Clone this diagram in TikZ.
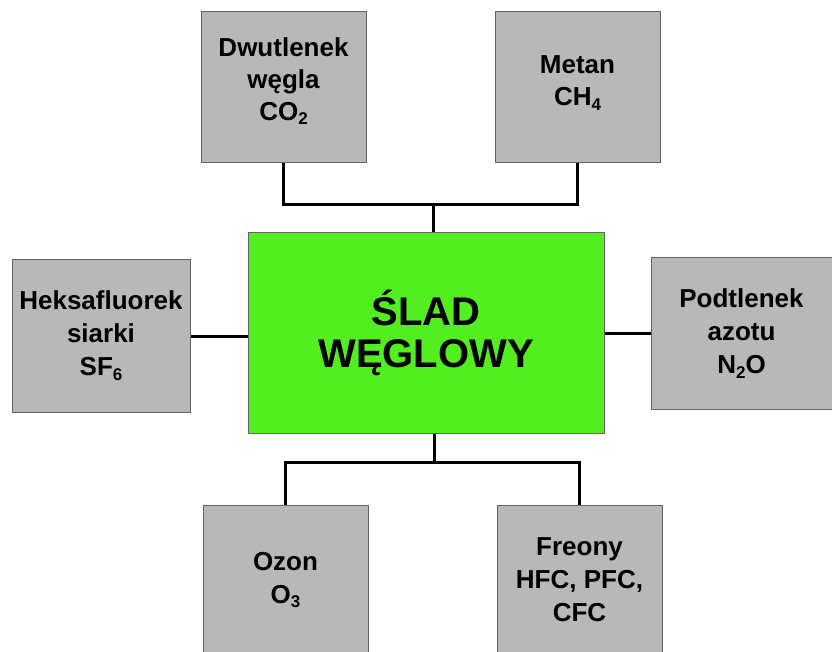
\documentclass[tikz,border=0pt]{standalone}
\usepackage{fontspec}
\setmainfont{Liberation Sans}
\usepackage{tikz}
\usetikzlibrary{positioning}
\definecolor{gazgray}{HTML}{B8B8B8}
\definecolor{gazedge}{HTML}{646464}
\definecolor{sladgreen}{HTML}{53EE1F}
\newcommand{\ind}[1]{\raisebox{-0.35ex}{\fontsize{17}{17}\selectfont #1}}
\tikzset{
  gaz/.style={draw=gazedge,fill=gazgray,line width=1pt,align=center,
    font=\fontsize{26}{33}\selectfont\bfseries,inner sep=0pt},
  gaztxt/.style={align=center,inner sep=0pt,
    font=\fontsize{26}{32}\selectfont\bfseries},
  slad/.style={draw=gazedge,fill=sladgreen,line width=1pt,align=center,
    font=\fontsize{40}{42}\selectfont\bfseries,
    minimum width=356pt,minimum height=200pt},
  conn/.style={line width=3pt,black}
}
\begin{document}
\begin{tikzpicture}[x=1pt,y=-1pt]
\useasboundingbox (0,0) rectangle (832,652);
\clip (0,0) rectangle (832,652);
% centre
\node[slad] (slad) at (426,333) {ŚLAD\\WĘGLOWY};
% gazy
\node[gaz,minimum width=165pt,minimum height=151pt] (co2) at (283.5,87.5) {};
\node[gaztxt] (co2txt) at (283.5,81) {Dwutlenek\\węgla\\CO\ind{2}};
\node[gaz,minimum width=165pt,minimum height=151pt] (ch4) at (577.5,87.5) {};
\node[gaztxt] (ch4txt) at (577.5,83) {Metan\\CH\ind{4}};
\node[gaz,minimum width=178pt,minimum height=152pt] (sf6) at (101,336)
  {Heksafluorek\\siarki\\SF\ind{6}};
\node[gaz,minimum width=181pt,minimum height=151pt] (n2o) at (741.5,333.5)
  {Podtlenek\\azotu\\N\ind{2}O};
\node[gaz,minimum width=165pt,minimum height=150pt] (o3) at (285.5,580)
  {Ozon\\O\ind{3}};
\node[gaz,minimum width=165pt,minimum height=150pt] (freony) at (579.5,580)
  {Freony\\HFC, PFC,\\CFC};
% polaczenia
\coordinate (jtop) at (433,205);
\coordinate (jbot) at (434,462);
\draw[conn] (co2.south) -- (co2.south |- jtop) -- (ch4.south |- jtop) -- (ch4.south);
\draw[conn] (jtop) -- (jtop |- slad.north);
\draw[conn] (jbot |- slad.south) -- (jbot);
\draw[conn] (o3.north) -- (o3.north |- jbot) -- (freony.north |- jbot) -- (freony.north);
\draw[conn] (sf6.east) -- (slad.west |- sf6.east);
\draw[conn] (slad.east |- n2o.west) -- (n2o.west);
\end{tikzpicture}
\end{document}
